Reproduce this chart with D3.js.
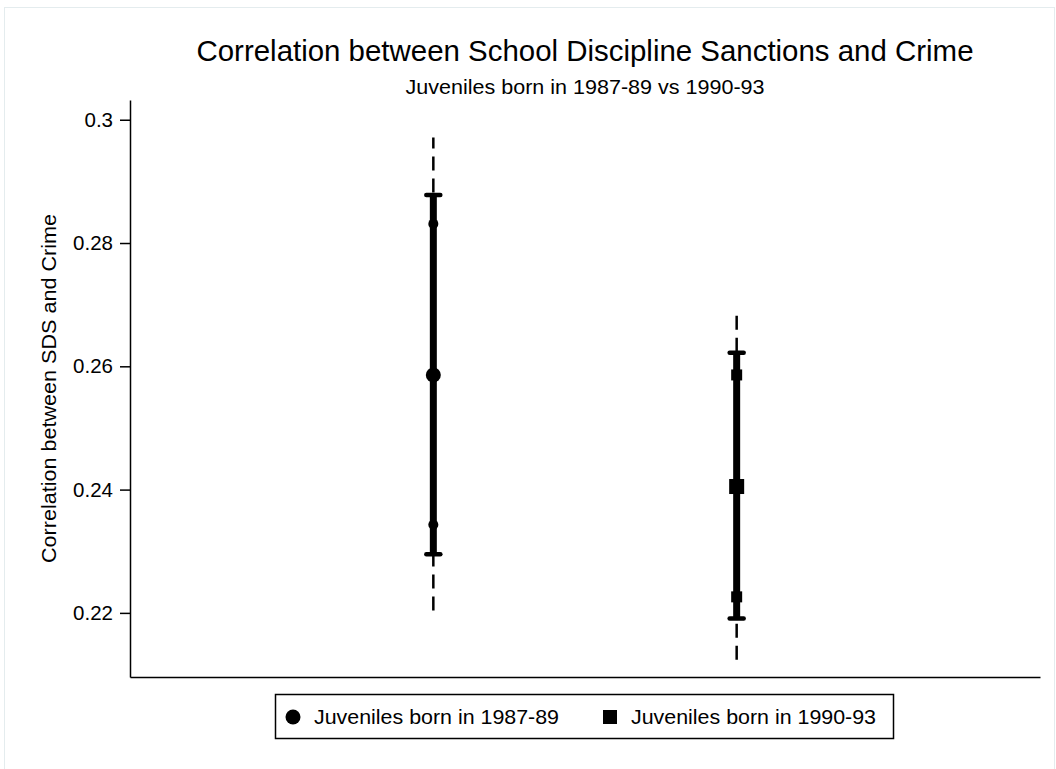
<!DOCTYPE html>
<html>
<head>
<meta charset="utf-8">
<script src="https://cdn.jsdelivr.net/npm/d3@7/dist/d3.min.js"></script>
<style>
  html, body { margin: 0; padding: 0; background: #fff; }
  svg { display: block; font-family: "Liberation Sans", Arial, sans-serif; }
</style>
</head>
<body>
<svg id="chart" width="1056" height="769"></svg>
<script>
// ---- data ----
const groups = ["Juveniles born in 1987-89", "Juveniles born in 1990-93"];
const groupX = [1, 2];
const markerShapes = ["circle", "square"];
const estimate = [0.2586, 0.2405];
const capLow = [0.2295, 0.2191];
const capHigh = [0.2878, 0.2622];
const innerLow = [0.2343, 0.2226];
const innerHigh = [0.2831, 0.2586];
const outerLow = [0.2204, 0.2124];
const outerHigh = [0.2971, 0.2687];
const yTickValues = [0.22, 0.24, 0.26, 0.28, 0.3];
const yTickLabels = ["0.22", "0.24", "0.26", "0.28", "0.3"];
const titleText = "Correlation between School Discipline Sanctions and Crime";
const subtitleText = "Juveniles born in 1987-89 vs 1990-93";
const yLabelText = "Correlation between SDS and Crime";

(function () {
const svg = d3.select("#chart");
const pLeft = 130, pRight = 1040, pTop = 100, pBottom = 677;

// outer faint frame
svg.append("rect").attr("x", 4.5).attr("y", 7.5).attr("width", 1050).attr("height", 770)
  .attr("fill", "none").attr("stroke", "#e4ecee").attr("stroke-width", 1);

const x = d3.scaleLinear().domain([0, 3]).range([pLeft, pRight]);
const y = d3.scaleLinear().domain([0.2096, 0.3032]).range([pBottom, pTop]);

// y axis
const yAxis = d3.axisLeft(y).tickValues(yTickValues)
  .tickFormat((d, i) => yTickLabels[i]).tickSize(10).tickPadding(7).tickSizeOuter(0);
const gy = svg.append("g").attr("transform", `translate(${pLeft},0)`).call(yAxis);
gy.select(".domain").attr("stroke", "#000").attr("stroke-width", 1.5);
gy.selectAll(".tick line").attr("stroke", "#000").attr("stroke-width", 1.5);
gy.selectAll(".tick text").attr("font-size", 20.5).attr("fill", "#000")
  .attr("font-family", "Liberation Sans, Arial, sans-serif");

// x axis (no ticks)
const xAxis = d3.axisBottom(x).tickValues([]).tickSizeOuter(0);
const gx = svg.append("g").attr("transform", `translate(0,${pBottom})`).call(xAxis);
gx.select(".domain").attr("stroke", "#000").attr("stroke-width", 1.5);

// titles
svg.append("text").attr("x", (pLeft + pRight) / 2).attr("y", 61).attr("text-anchor", "middle")
  .attr("font-size", 29).attr("fill", "#000")
  .attr("textLength", 777).attr("lengthAdjust", "spacingAndGlyphs").text(titleText);
svg.append("text").attr("x", (pLeft + pRight) / 2).attr("y", 94).attr("text-anchor", "middle")
  .attr("font-size", 20.5).attr("fill", "#000")
  .attr("textLength", 359).attr("lengthAdjust", "spacingAndGlyphs").text(subtitleText);
svg.append("text").attr("transform", `translate(55.5,${(pTop + pBottom) / 2}) rotate(-90)`)
  .attr("text-anchor", "middle").attr("font-size", 20.5).attr("fill", "#000")
  .attr("textLength", 349).attr("lengthAdjust", "spacingAndGlyphs").text(yLabelText);

const idx = d3.range(groups.length);
const g = svg.append("g");

// dashed outer lines
g.selectAll(".outer").data(idx).join("line")
  .attr("x1", i => x(groupX[i])).attr("x2", i => x(groupX[i]))
  .attr("y1", i => y(outerLow[i])).attr("y2", i => y(outerHigh[i]))
  .attr("stroke", "#000").attr("stroke-width", 2.5).attr("stroke-dasharray", "14,8");

// thick ci lines
g.selectAll(".ci").data(idx).join("line")
  .attr("x1", i => x(groupX[i])).attr("x2", i => x(groupX[i]))
  .attr("y1", i => y(capLow[i])).attr("y2", i => y(capHigh[i]))
  .attr("stroke", "#000").attr("stroke-width", 7);

// caps
[capLow, capHigh].forEach(arr => {
  g.selectAll(null).data(idx).join("line")
    .attr("x1", i => x(groupX[i]) - 7).attr("x2", i => x(groupX[i]) + 7)
    .attr("y1", i => y(arr[i])).attr("y2", i => y(arr[i]))
    .attr("stroke", "#000").attr("stroke-width", 4.5).attr("stroke-linecap", "round");
});

function drawMarker(sel, shape, cx, cy, size) {
  if (shape === "circle") {
    sel.append("circle").attr("cx", cx).attr("cy", cy).attr("r", size / 2).attr("fill", "#000");
  } else {
    sel.append("rect").attr("x", cx - size / 2).attr("y", cy - size / 2)
      .attr("width", size).attr("height", size).attr("fill", "#000");
  }
}

idx.forEach(i => {
  const cx = x(groupX[i]);
  const sh = markerShapes[i];
  drawMarker(g, sh, cx, y(innerLow[i]), sh === "circle" ? 10 : 11);
  drawMarker(g, sh, cx, y(innerHigh[i]), sh === "circle" ? 10 : 11);
  drawMarker(g, sh, cx, y(estimate[i]), 15);
});

// legend
const lg = svg.append("g");
lg.append("rect").attr("x", 275.5).attr("y", 694.5).attr("width", 618).attr("height", 44)
  .attr("fill", "#fff").attr("stroke", "#000").attr("stroke-width", 1.5);
const legendX = [293, 610];
idx.forEach(i => {
  drawMarker(lg, markerShapes[i], legendX[i], 717, markerShapes[i] === "circle" ? 15 : 14);
  lg.append("text").attr("x", legendX[i] + 21).attr("y", 724).attr("font-size", 20.5)
    .attr("fill", "#000").attr("textLength", 245).attr("lengthAdjust", "spacingAndGlyphs")
    .text(groups[i]);
});
})();
</script>
</body>
</html>
